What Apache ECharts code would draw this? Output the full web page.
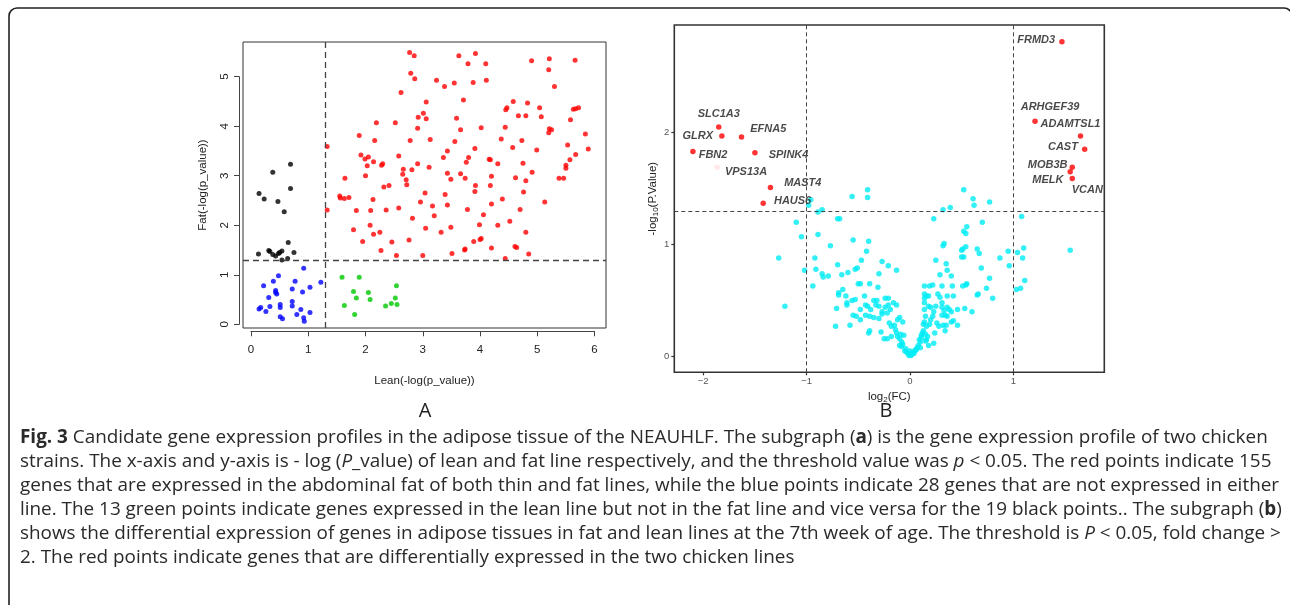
<!DOCTYPE html>
<html><head><meta charset="utf-8">
<script src="https://cdn.jsdelivr.net/npm/echarts@6/dist/echarts.min.js"></script>
<style>html,body{margin:0;padding:0;background:#fff}#c{width:1290px;height:605px}</style>
</head><body><div id="c"></div>
<script>
// ---------------- Panel A data ----------------
const xTicksA = [0, 1, 2, 3, 4, 5, 6];
const yTicksA = [0, 1, 2, 3, 4, 5];
const thresholdA = 1.301;
const blackA = [[0.14,2.64],[0.23,2.53],[0.38,3.07],[0.47,2.48],[0.58,2.27],[0.69,3.23],[0.69,2.74],[0.13,1.42],[0.31,1.49],[0.33,1.47],[0.43,1.38],[0.48,1.43],[0.54,1.48],[0.54,1.30],[0.64,1.33],[0.65,1.65],[0.75,1.45],[0.50,1.45],[0.38,1.41]];
const blueA = [[0.92,1.13],[0.48,0.98],[0.22,0.78],[0.39,0.87],[0.43,0.68],[0.45,0.61],[0.77,0.87],[0.72,0.71],[0.90,0.65],[1.03,0.75],[1.22,0.85],[0.31,0.54],[0.14,0.31],[0.17,0.34],[0.26,0.26],[0.33,0.36],[0.51,0.40],[0.51,0.34],[0.72,0.46],[0.72,0.37],[0.87,0.30],[1.03,0.24],[0.80,0.20],[0.51,0.15],[0.55,0.11],[0.92,0.13],[0.93,0.06],[0.43,0.64]];
const greenA = [[1.59,0.95],[1.89,0.95],[1.79,0.66],[1.84,0.53],[1.63,0.38],[1.81,0.20],[2.05,0.64],[2.08,0.50],[2.54,0.78],[2.52,0.53],[2.35,0.37],[2.45,0.42],[2.55,0.40]];
const redA = [[2.77,5.49],[2.85,5.42],[2.79,5.07],[2.86,4.96],[2.62,4.68],[3.63,5.42],[3.92,5.47],[3.79,5.26],[4.10,5.26],[3.24,4.93],[3.38,4.80],[3.55,4.87],[3.88,4.88],[4.11,4.93],[3.71,4.53],[4.90,5.32],[5.21,5.36],[5.20,5.14],[5.30,4.80],[5.66,5.33],
[3.06,4.49],[3.01,4.26],[3.06,4.15],[2.92,4.18],[2.91,3.96],[2.52,4.07],[2.19,4.07],[2.78,3.71],[3.13,3.73],[3.59,4.16],[3.66,3.93],[4.02,3.97],[3.56,3.69],[3.91,3.55],[3.36,3.37],[3.43,3.50],[3.80,3.37],[3.76,3.27],
[4.45,4.33],[4.47,4.37],[4.58,4.50],[4.83,4.47],[4.67,4.21],[4.80,4.21],[5.04,4.37],[5.07,4.19],[5.20,3.87],[5.21,3.95],[5.25,3.93],[5.58,4.13],[5.63,4.34],[5.67,4.35],[5.72,4.37],[5.84,3.84],[5.89,3.54],
[4.44,3.98],[4.37,3.74],[4.57,3.57],[4.73,3.71],[4.99,3.52],[5.53,3.62],[5.57,3.32],[5.67,3.43],[5.50,3.21],[5.50,3.15],[5.38,2.95],[5.46,2.95],[4.91,3.07],[4.75,3.25],[4.31,3.24],[4.16,3.33],[4.18,3.32],[4.20,2.99],[4.18,2.80],[3.92,2.80],[3.91,2.68],[3.66,3.04],[3.74,2.95],[3.49,2.93],[3.43,3.05],[3.39,2.62],[3.43,2.41],[3.04,2.65],[2.96,2.47],[3.17,2.39],[3.20,2.19],
[2.72,2.82],[2.71,2.92],[2.66,3.13],[2.65,3.03],[2.81,3.12],[2.91,3.24],[3.11,3.17],[2.58,3.40],[2.41,2.80],[2.32,2.77],[2.28,3.21],[2.30,3.24],[2.14,3.28],[2.05,3.38],[1.99,3.34],[1.92,3.42],[2.03,3.20],[2.00,3.00],[1.89,3.81],[2.16,3.71],[2.13,2.52],[1.84,2.30],[2.09,2.30],[2.36,2.31],[2.58,2.35],[2.82,2.14],[2.08,2.00],[2.14,1.82],[2.25,1.86],[1.95,1.67],[1.79,1.91],[1.71,2.56],[1.63,2.54],[1.55,2.59],[1.56,2.55],[1.64,2.95],[1.33,3.59],[1.33,2.31],
[2.27,1.49],[2.46,1.66],[2.54,1.39],[2.76,1.70],[3.00,1.39],[3.05,1.94],[3.32,1.86],[3.49,1.96],[3.51,1.43],[3.74,1.52],[3.73,1.50],[3.89,1.67],[4.00,1.71],[4.02,1.73],[3.99,2.01],[4.06,2.21],[4.20,1.54],[4.20,2.43],[4.31,2.00],[4.39,2.53],[4.52,2.08],[4.70,2.32],[4.61,1.57],[4.64,1.55],[4.80,1.86],[4.85,1.42],[4.44,1.33],[5.13,2.47],[4.80,2.90],[4.62,2.96],[4.76,2.67],[3.78,2.32]];

// ---------------- Panel B data ----------------
const xTicksB = [-2, -1, 0, 1];
const yTicksB = [0, 1, 2];
const fcThreshB = [-1, 1];
const pThreshB = 1.301;
const geneB = ['FRMD3','SLC1A3','GLRX','EFNA5','FBN2','SPINK4','VPS13A','MAST4','HAUS6','ARHGEF39','ADAMTSL1','CAST','MOB3B','MELK','VCAN'];
const redB = [[1.47,2.81],[-1.85,2.05],[-1.82,1.97],[-1.63,1.96],[-2.10,1.83],[-1.50,1.82],[-1.865,1.69],[-1.35,1.51],[-1.42,1.37],[1.21,2.10],[1.65,1.97],[1.69,1.85],[1.57,1.69],[1.55,1.65],[1.57,1.59]];
const cyanB = [[-0.96,1.40],[-0.98,1.35],[-0.89,1.29],[-0.85,1.31],[-1.10,1.20],[-1.05,1.07],[-1.27,0.88],[-1.02,0.77],[-1.21,0.45],
[-0.56,1.43],[-0.41,1.49],[-0.41,1.42],[-0.70,1.23],[-0.68,1.23],[-0.89,1.09],[-0.55,1.04],[-0.40,1.03],[-0.77,0.99],[-0.42,0.94],[-0.92,0.88],[-0.91,0.78],[-0.85,0.74],[-0.84,0.71],[-0.79,0.72],[-0.94,0.63],[-0.70,0.82],[-0.66,0.73],[-0.60,0.75],[-0.53,0.78],[-0.51,0.79],[-0.47,0.86],[-0.27,0.85],[-0.21,0.81],[-0.13,0.77],[-0.30,0.74],[-0.50,0.65],[-0.48,0.65],[-0.39,0.65],[-0.31,0.62],
[-0.69,0.57],[-0.69,0.55],[-0.65,0.60],[-0.62,0.54],[-0.61,0.48],[-0.61,0.46],[-0.71,0.43],[-0.56,0.50],[-0.53,0.51],[-0.48,0.42],[-0.44,0.54],[-0.43,0.46],[-0.55,0.37],[-0.52,0.36],[-0.48,0.33],[-0.41,0.45],[-0.38,0.42],[-0.33,0.46],[-0.32,0.50],[-0.35,0.50],[-0.24,0.52],[-0.21,0.52],[-0.24,0.44],[-0.21,0.46],[-0.16,0.48],[-0.13,0.46],[-0.27,0.40],[-0.27,0.38],[-0.22,0.39],[-0.19,0.42],[-0.30,0.34],[-0.35,0.35],[-0.39,0.36],[-0.43,0.37],[-0.72,0.27],[-0.58,0.28],[-0.39,0.23],[-0.40,0.21],[-0.28,0.22],[-0.25,0.16],[-0.22,0.16],[-0.18,0.18],[-0.15,0.28],[-0.12,0.33],[-0.10,0.35],[-0.07,0.31],[-0.18,0.27],[-0.13,0.21],[-0.12,0.18],[-0.10,0.16],[-0.08,0.13],[-0.06,0.19],[-0.10,0.10],[-0.08,0.09],[-0.04,0.07],[-0.03,0.04],[-0.01,0.01],[0.01,0.01],[0.03,0.04],[0.05,0.06],[0.06,0.06],[0.08,0.10],[0.10,0.13],[0.11,0.17],[0.11,0.19],[0.13,0.23],[0.13,0.29],[0.14,0.31],[0.15,0.36],[0.14,0.42],[0.14,0.48],[0.14,0.52],[0.14,0.56],[0.14,0.63],[0.19,0.63],[0.22,0.64],[0.31,0.63],[0.41,0.63],[0.51,0.63],[0.55,0.65],[0.65,0.55],[0.66,0.56],[0.74,0.61],[0.80,0.52],[0.18,0.54],[0.16,0.54],[0.27,0.56],[0.29,0.53],[0.36,0.54],[0.42,0.54],[0.18,0.45],[0.20,0.44],[0.23,0.40],[0.25,0.45],[0.31,0.48],[0.31,0.44],[0.33,0.41],[0.36,0.44],[0.38,0.42],[0.40,0.40],[0.46,0.42],[0.53,0.43],[0.60,0.40],[0.22,0.36],[0.31,0.37],[0.34,0.37],[0.36,0.36],[0.40,0.31],[0.42,0.32],[0.46,0.28],[0.16,0.27],[0.19,0.29],[0.28,0.27],[0.32,0.28],[0.35,0.28],[0.34,0.23],[0.24,0.21],[0.17,0.18],[0.16,0.15],[0.18,0.10],[0.10,0.08],[0.15,0.14],[0.23,0.12],
[-0.02,0.03],[0.02,0.02],[0.04,0.03],[-0.05,0.05],[0.07,0.08],[0.00,0.05],[-0.07,0.11],[0.09,0.15],[0.12,0.21],[-0.09,0.20],[-0.14,0.24],[0.15,0.20],[0.20,0.33],[0.26,0.30],[-0.20,0.30],[-0.30,0.45],
[0.23,1.23],[0.32,1.31],[0.39,1.33],[0.52,1.49],[0.61,1.41],[0.62,1.35],[0.77,1.38],[0.55,1.16],[0.52,1.12],[0.54,1.10],[0.70,1.20],[0.32,0.99],[0.33,1.01],[0.50,0.95],[0.51,0.96],[0.54,0.98],[0.65,0.96],[0.67,0.92],[0.69,0.79],[0.50,0.89],[0.52,0.89],[0.25,0.86],[0.35,0.83],[0.36,0.77],[0.40,0.72],[0.29,0.73],[0.77,0.70],[0.54,0.64],[0.87,0.88],[0.95,0.94],[0.96,0.81],[1.04,0.93],[1.08,1.25],[1.10,0.97],[1.09,0.88],[1.11,0.68],[1.03,0.60],[1.07,0.61],[1.55,0.95]];

// ---------------- Texts ----------------
const panelLetters = ['A', 'B'];
const captionLines = [
  '{b|Fig. 3} Candidate gene expression profiles in the adipose tissue of the NEAUHLF. The subgraph ({b|a}) is the gene expression profile of two chicken',
  'strains. The x-axis and y-axis is - log ({i|P}_value) of lean and fat line respectively, and the threshold value was {i|p} < 0.05. The red points indicate 155',
  'genes that are expressed in the abdominal fat of both thin and fat lines, while the blue points indicate 28 genes that are not expressed in either',
  'line. The 13 green points indicate genes expressed in the lean line but not in the fat line and vice versa for the 19 black points.. The subgraph ({b|b})',
  'shows the differential expression of genes in adipose tissues in fat and lean lines at the 7th week of age. The threshold is {i|P} < 0.05, fold change >',
  '2. The red points indicate genes that are differentially expressed in the two chicken lines'
];

// ---------------- Layout / styles ----------------
const A = {left: 243, top: 42, width: 363, height: 286, xMin: -0.14, xMax: 6.2, yMin: -0.075, yMax: 5.70};
const B = {left: 674.3, top: 25, width: 430, height: 347.3, xMin: -2.28, xMax: 1.88, yMin: -0.14, yMax: 2.96};
const ax = {
  left: A.left + (xTicksA[0] - A.xMin) / (A.xMax - A.xMin) * A.width,
  width: (xTicksA[xTicksA.length-1] - xTicksA[0]) / (A.xMax - A.xMin) * A.width,
  top: A.top + (A.yMax - yTicksA[yTicksA.length-1]) / (A.yMax - A.yMin) * A.height,
  height: (yTicksA[yTicksA.length-1] - yTicksA[0]) / (A.yMax - A.yMin) * A.height
};
const rFont = '"Liberation Sans", Arial, sans-serif';
const capFont = '"Open Sans", sans-serif';
const capSize = 18.9;

const labelPosB = [
  {position: 'left', distance: 4, offset: [0, -2]},
  {position: 'top', distance: 5, offset: [0, 0]},
  {position: 'left', distance: 6, offset: [0, 0]},
  {position: 'right', distance: 6, offset: [0, -8]},
  {position: 'right', distance: 3, offset: [0, 3]},
  {position: 'right', distance: 11, offset: [0, 2]},
  {position: 'right', distance: 5, offset: [0, 5]},
  {position: 'right', distance: 11, offset: [0, -4]},
  {position: 'right', distance: 8, offset: [0, -2]},
  {position: 'top', distance: 6, offset: [15, 0]},
  {position: 'top', distance: 4, offset: [-10, 0]},
  {position: 'left', distance: 4, offset: [0, -2]},
  {position: 'left', distance: 2, offset: [0, -2]},
  {position: 'left', distance: 4, offset: [0, 8]},
  {position: 'bottom', distance: 3, offset: [15, 0]}
];

const hidden = {axisLine: {show: false, onZero: false}, axisTick: {show: false}, axisLabel: {show: false}, splitLine: {show: false}};
const dashA = {type: [6, 4], color: '#444', width: 1.3};
const dashB = {type: [4, 3], color: '#444', width: 1};

const chart = echarts.init(document.getElementById('c'), null, {renderer: 'canvas'});
const minus = v => (v < 0 ? '\u2212' + Math.abs(v) : String(v));

const option = {
  backgroundColor: '#fff',
  animation: false,
  grid: [
    {left: A.left, top: A.top, width: A.width, height: A.height, show: true, borderColor: '#333', borderWidth: 1, backgroundColor: 'transparent'},
    {left: ax.left, top: ax.top, width: ax.width, height: ax.height, show: false},
    {left: B.left, top: B.top, width: B.width, height: B.height, show: true, borderColor: '#333', borderWidth: 1.6, backgroundColor: 'transparent'}
  ],
  xAxis: [
    Object.assign({type: 'value', gridIndex: 0, min: A.xMin, max: A.xMax, name: 'Lean(-log(p_value))', nameLocation: 'middle', nameGap: 47,
      nameTextStyle: {fontFamily: rFont, fontSize: 11.5, color: '#222'}}, hidden),
    {type: 'value', gridIndex: 1, min: xTicksA[0], max: xTicksA[xTicksA.length-1], interval: 1, offset: 7,
      axisLine: {show: true, onZero: false, lineStyle: {color: '#444', width: 1}}, axisTick: {show: true, length: 5, lineStyle: {color: '#444'}},
      axisLabel: {show: true, margin: 13, fontFamily: rFont, fontSize: 11.5, color: '#222'}, splitLine: {show: false}},
    {type: 'value', gridIndex: 2, min: B.xMin, max: B.xMax, name: 'log{s|2}(FC)', nameLocation: 'middle', nameGap: 6,
      nameTextStyle: {fontFamily: rFont, fontSize: 11.5, color: '#222', rich: {s: {fontFamily: rFont, fontSize: 8, color: '#222', padding: [6, 0, 0, 0]}}},
      axisLine: {show: false, onZero: false}, splitLine: {show: false},
      axisTick: {show: true, length: 3, customValues: xTicksB, lineStyle: {color: '#333', width: 1.2}},
      axisLabel: {show: true, margin: 4, customValues: xTicksB, fontFamily: rFont, fontSize: 9.5, color: '#555', formatter: minus}}
  ],
  yAxis: [
    Object.assign({type: 'value', gridIndex: 0, min: A.yMin, max: A.yMax, name: 'Fat(-log(p_value))', nameLocation: 'middle', nameGap: 34,
      nameTextStyle: {fontFamily: rFont, fontSize: 11.5, color: '#222'}}, hidden),
    {type: 'value', gridIndex: 1, min: yTicksA[0], max: yTicksA[yTicksA.length-1], interval: 1, offset: 12,
      axisLine: {show: true, onZero: false, lineStyle: {color: '#444', width: 1}}, axisTick: {show: true, length: 5, lineStyle: {color: '#444'}},
      axisLabel: {show: true, margin: 8, rotate: 90, fontFamily: rFont, fontSize: 11.5, color: '#222'}, splitLine: {show: false}},
    {type: 'value', gridIndex: 2, min: B.yMin, max: B.yMax, name: '-log{s|10}(P.Value)', nameLocation: 'middle', nameGap: 13,
      nameTextStyle: {fontFamily: rFont, fontSize: 11.5, color: '#222', rich: {s: {fontFamily: rFont, fontSize: 8, color: '#222', padding: [6, 0, 0, 0]}}},
      axisLine: {show: false, onZero: false}, splitLine: {show: false},
      axisTick: {show: true, length: 3, customValues: yTicksB, lineStyle: {color: '#333', width: 1.2}},
      axisLabel: {show: true, margin: 5, customValues: yTicksB, fontFamily: rFont, fontSize: 9.5, color: '#555', formatter: minus}}
  ],
  series: [
    {type: 'scatter', xAxisIndex: 0, yAxisIndex: 0, data: redA, symbolSize: 5, itemStyle: {color: '#ff0000'},
      markLine: {silent: true, symbol: 'none', label: {show: false}, lineStyle: dashA, data: [{xAxis: thresholdA}, {yAxis: thresholdA}]}},
    {type: 'scatter', xAxisIndex: 0, yAxisIndex: 0, data: blueA, symbolSize: 5, itemStyle: {color: '#0000ff'}},
    {type: 'scatter', xAxisIndex: 0, yAxisIndex: 0, data: greenA, symbolSize: 5, itemStyle: {color: '#00c800'}},
    {type: 'scatter', xAxisIndex: 0, yAxisIndex: 0, data: blackA, symbolSize: 5, itemStyle: {color: '#000000'}},
    {type: 'scatter', xAxisIndex: 2, yAxisIndex: 2, data: cyanB, symbolSize: 5.5, itemStyle: {color: '#00ecf5'},
      markLine: {silent: true, symbol: 'none', label: {show: false}, lineStyle: dashB,
        data: [{xAxis: fcThreshB[0]}, {xAxis: fcThreshB[1]}, {yAxis: pThreshB}]}},
    {type: 'scatter', xAxisIndex: 2, yAxisIndex: 2, symbolSize: 5.5, itemStyle: {color: '#ff0000'},
      data: redB.map((p, i) => ({value: p, name: geneB[i],
        itemStyle: geneB[i] === 'VPS13A' ? {color: '#ffe4e4'} : undefined,
        label: Object.assign({show: true, formatter: '{b}', fontFamily: rFont, fontSize: 11, fontWeight: 'bold', fontStyle: 'italic', color: '#1a1a1a'}, labelPosB[i])}))}
  ],
  graphic: [
    {type: 'rect', silent: true, shape: {x: 9, y: 8, width: 1283, height: 606, r: 8}, style: {fill: 'none', stroke: '#222', lineWidth: 1.6}},
    {type: 'text', silent: true, style: {x: 425, y: 411, text: panelLetters[0], fontFamily: capFont, fontSize: 20, fill: '#222', align: 'center', verticalAlign: 'middle'}},
    {type: 'text', silent: true, style: {x: 886, y: 411, text: panelLetters[1], fontFamily: capFont, fontSize: 20, fill: '#222', align: 'center', verticalAlign: 'middle'}}
  ].concat(captionLines.map((t, i) => ({
    type: 'text', silent: true,
    style: {x: 20, y: 438 + i * 24, text: t, fontFamily: capFont, fontSize: capSize, fill: '#2a2a2a', verticalAlign: 'middle',
      rich: {
        b: {fontFamily: capFont, fontSize: capSize, fontWeight: 'bold', fill: '#2a2a2a'},
        i: {fontFamily: capFont, fontSize: capSize, fontStyle: 'italic', fill: '#2a2a2a'}
      }}
  })))
};
chart.setOption(option);
</script>
</body></html>
